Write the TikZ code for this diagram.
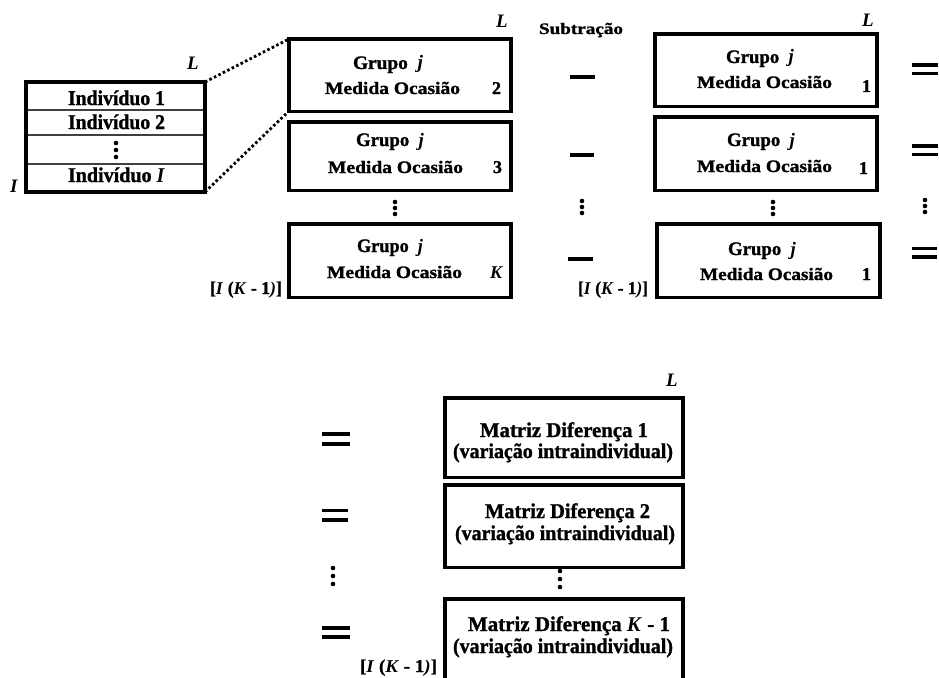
\documentclass[tikz,border=0pt]{standalone}
\usepackage{fontspec}
\setmainfont{Liberation Serif}[BoldFeatures={FakeBold=1.2}]
\usepackage{graphicx}

% stretch a piece of text to a given width (in pt), keeping its height
\newcommand{\fitw}[2]{\resizebox{#1pt}{\height}{#2}}

\tikzset{
  frameedge/.style={line width=4.4pt, line cap=rect},
  baseedge/.style={line width=3pt},
  slot/.style={rectangle, inner sep=0pt, outer sep=0pt, draw=none},
  rowline/.style={line width=1.4pt, draw=black!75},
  dotlink/.style={line width=2.8pt, dash pattern=on 2.6pt off 2.4pt},
  opline/.style={line width=3.8pt},
  txt/.style={anchor=base west, inner sep=0pt, outer sep=0pt},
  indtxt/.style={txt, font=\fontsize{21}{23}\selectfont\bfseries},
  grptxt/.style={txt, font=\fontsize{19}{21}\selectfont\bfseries},
  medtxt/.style={txt, font=\fontsize{17.5}{19}\selectfont\bfseries},
  numtxt/.style={txt, font=\fontsize{18}{20}\selectfont\bfseries},
  mattxt/.style={txt, font=\fontsize{21}{23}\selectfont\bfseries},
  labtxt/.style={txt, font=\fontsize{18}{20}\selectfont\bfseries},
  dimtxt/.style={txt, font=\fontsize{19}{21}\selectfont\bfseries\itshape},
}

% box frame: heavy top and sides, lighter base line
% #1 name, (#2,#3) top-left corner, (#4,#5) bottom-right corner
\newcommand{\slotbox}[5]{%
  \node[slot, minimum width={(#4-#2)*1pt}, minimum height={(#5-#3)*1pt}]
    (#1) at ({(#2+#4)/2},{(#3+#5)/2}) {};
  \draw[frameedge] (#1.south west) |- (#1.north east) -- (#1.south east);
  \draw[baseedge] (#1.south west) -- (#1.south east);
}

% three stacked dots centred at (#1,#2) with spacing #3
\newcommand{\dotstack}[3]{%
  \fill ({#1},{#2-#3}) circle (2.3pt);
  \fill ({#1},{#2}) circle (2.3pt);
  \fill ({#1},{#2+#3}) circle (2.3pt);
}

\begin{document}
\begin{tikzpicture}[x=1pt, y=-1pt]
\fill[white] (0,0) rectangle (939,677);
\useasboundingbox (0,0) rectangle (939,677);

% ---------- data matrix of individuals ----------
\node[slot, minimum width=179pt, minimum height=110pt] (ind) at (115.5,137) {};
\draw[frameedge] (ind.south west) rectangle (ind.north east);
\draw[rowline] (28,110) -- (203,110);
\draw[rowline] (28,135) -- (203,135);
\draw[rowline] (28,164) -- (203,164);
\node[indtxt] (ind1) at (68,105) {\fitw{97}{Indivíduo 1}};
\node[indtxt] (ind2) at (68,129) {\fitw{97}{Indivíduo 2}};
\dotstack{116}{150}{7}
\node[indtxt] (indI) at (68,182) {\fitw{97}{Indivíduo \textit{I}}};
\node[dimtxt] (indL) at (187,70) {L};
\node[dimtxt] (indRows) at (10,192) {I};

% ---------- occasions 2 ... K ----------
\slotbox{bA}{289}{39}{511}{111}
\slotbox{bB}{289}{122}{511}{190}
\slotbox{bC}{289}{224}{511}{297}

\draw[dotlink] (ind.north east) -- (bA.north west);
\draw[dotlink] (ind.south east) -- (bA.south west);

\node[dimtxt] (bAL) at (496,28) {L};
\node[grptxt] (bAg) at (353,69) {\fitw{70}{Grupo~~\textit{j}}};
\node[medtxt] (bAm) at (325,94) {\fitw{135}{Medida Ocasião}};
\node[numtxt] (bAn) at (492,94) {2};

\node[grptxt] (bBg) at (356,146) {\fitw{68}{Grupo~~\textit{j}}};
\node[medtxt] (bBm) at (328,173) {\fitw{135}{Medida Ocasião}};
\node[numtxt] (bBn) at (493,173) {3};

\dotstack{395}{208}{6}

\node[grptxt] (bCg) at (357,252) {\fitw{66}{Grupo~~\textit{j}}};
\node[medtxt] (bCm) at (327,278) {\fitw{135}{Medida Ocasião}};
\node[numtxt] (bCn) at (490,278) {\textit{K}};
\node[labtxt] (bCdim) at (210,294) {\fitw{72}{[\textit{I} (\textit{K} - 1\textit{)}]}};

% ---------- subtraction column ----------
\node[labtxt, font=\fontsize{16}{18}\selectfont\bfseries] (sub) at (539,34) {\fitw{84}{Subtração}};
\draw[opline] (570,77) -- (595,77);
\draw[opline] (570,155) -- (594,155);
\dotstack{582}{207}{6}
\draw[opline] (568,259) -- (593,259);
\node[labtxt] (subdim) at (578,294) {\fitw{70}{[\textit{I} (\textit{K} - 1\textit{)}]}};

% ---------- occasion 1, repeated ----------
\slotbox{bD}{655}{34}{877}{106}
\slotbox{bE}{655}{117}{877}{190}
\slotbox{bF}{657}{224}{880}{297}

\node[dimtxt] (bDL) at (862,27) {L};
\node[grptxt] (bDg) at (726,63) {\fitw{68}{Grupo~~\textit{j}}};
\node[medtxt] (bDm) at (697,88) {\fitw{135}{Medida Ocasião}};
\node[numtxt] (bDn) at (862,92) {1};

\node[grptxt] (bEg) at (727,146) {\fitw{68}{Grupo~~\textit{j}}};
\node[medtxt] (bEm) at (697,172) {\fitw{135}{Medida Ocasião}};
\node[numtxt] (bEn) at (859,174) {1};

\dotstack{773}{208}{6}

\node[grptxt] (bFg) at (728,255) {\fitw{68}{Grupo~~\textit{j}}};
\node[medtxt] (bFm) at (700,280) {\fitw{133}{Medida Ocasião}};
\node[numtxt] (bFn) at (862,280) {1};

% equals column
\draw[opline] (912,65) -- (938,65);
\draw[opline] (912,73.5) -- (938,73.5);
\draw[opline] (912,146) -- (938,146);
\draw[opline] (912,154.5) -- (938,154.5);
\dotstack{925}{206}{6}
\draw[opline] (912,248.5) -- (937,248.5);
\draw[opline] (912,257) -- (937,257);

% ---------- difference matrices ----------
\slotbox{bG}{445}{398}{683}{477}
\slotbox{bH}{445}{485}{683}{567}
\slotbox{bI}{445}{599}{683}{692}

\node[dimtxt] (bGL) at (666,386) {L};
\node[mattxt] (bGa) at (480,437) {\fitw{168}{Matriz Diferença~1}};
\node[mattxt] (bGb) at (453,458) {\fitw{220}{(variação intraindividual)}};

\node[mattxt] (bHa) at (485,518) {\fitw{165}{Matriz Diferença 2}};
\node[mattxt] (bHb) at (455,540) {\fitw{220}{(variação intraindividual)}};

\dotstack{560}{579}{8}

\node[mattxt] (bIa) at (468,631) {\fitw{202}{Matriz Diferença~\textit{K}~- 1}};
\node[mattxt] (bIb) at (453,653) {\fitw{220}{(variação intraindividual)}};
\node[labtxt] (bIdim) at (360,672) {\fitw{77}{[\textit{I} (\textit{K} - 1\textit{)}]}};

% equals in front of each difference matrix
\draw[opline] (322,434) -- (350,434);
\draw[opline] (322,444) -- (350,444);
\draw[opline] (322,510.5) -- (348,510.5);
\draw[opline] (322,520) -- (348,520);
\dotstack{333}{576}{8}
\draw[opline] (322,628) -- (350,628);
\draw[opline] (322,637) -- (350,637);
\end{tikzpicture}
\end{document}
